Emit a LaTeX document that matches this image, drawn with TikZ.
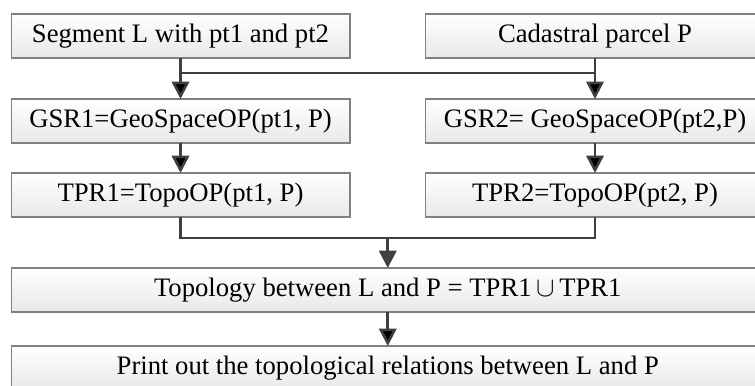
\documentclass[tikz,border=0pt]{standalone}
\usepackage{fontspec}
\setmainfont{Liberation Serif}
\usetikzlibrary{positioning,calc,arrows.meta}

\definecolor{boxline}{HTML}{808080}
\definecolor{flowline}{HTML}{404040}

\begin{document}
\begin{tikzpicture}[%
    x=0.75pt,
    y=-0.75pt,
    ->,
    >={Triangle[length=13pt,width=13pt]},
    font=\fontsize{20}{23}\selectfont,
    flow/.style={%
      draw=flowline,
      line width=1.9pt
    },
    stepbox/.style={%
      rectangle,
      minimum width=254pt,
      minimum height=33pt,
      inner sep=0pt,
      outer sep=0pt,
      draw=boxline,
      line width=1pt,
      top color=white,
      bottom color=black!9
    },
    widebox/.style={%
      stepbox,
      minimum width=564.75pt
    }
  ]
    \useasboundingbox (0,0) rectangle (755,385);

    \node[stepbox] (seg) at (180.5,36) {Segment L with pt1 and pt2};
    \node[stepbox] (parcel) at (595,36) {Cadastral parcel P};
    \node[stepbox] (gsr1) [below=30.75pt of seg] {GSR1=GeoSpaceOP(pt1, P)};
    \node[stepbox] (gsr2) [below=30.75pt of parcel] {GSR2= GeoSpaceOP(pt2,P)};
    \node[stepbox] (tpr1) [below=22.5pt of gsr1] {TPR1=TopoOP(pt1, P)};
    \node[stepbox] (tpr2) [below=22.5pt of gsr2] {TPR2=TopoOP(pt2, P)};
    \coordinate (Middle) at ($(tpr1.south)!0.5!(tpr2.south)$);
    \node[widebox] (topo) [below=38.25pt of Middle] {Topology between L and P = TPR1$\,\cup\,$TPR1};
    \node[widebox] (print) [below=25.5pt of topo] {Print out the topological relations between L and P};

    % joins
    \coordinate (Top) at ($(seg.south)+(0,15)$);
    \coordinate (Low) at ($(tpr1.south)+(0,21)$);
    \draw[flow,-] (Top) -- (Top -| parcel.south);
    \draw[flow,-] (tpr1.south) -- (Low) -- (Low -| tpr2.south) -- (tpr2.south);
    \draw[flow] (Low -| topo.north) -- (topo.north);

    \path[flow] (seg) edge node {} (gsr1)
          (parcel) edge node {} (gsr2)
          (gsr1) edge node {} (tpr1)
          (gsr2) edge node {} (tpr2)
          (topo) edge node {} (print);
\end{tikzpicture}
\end{document}
